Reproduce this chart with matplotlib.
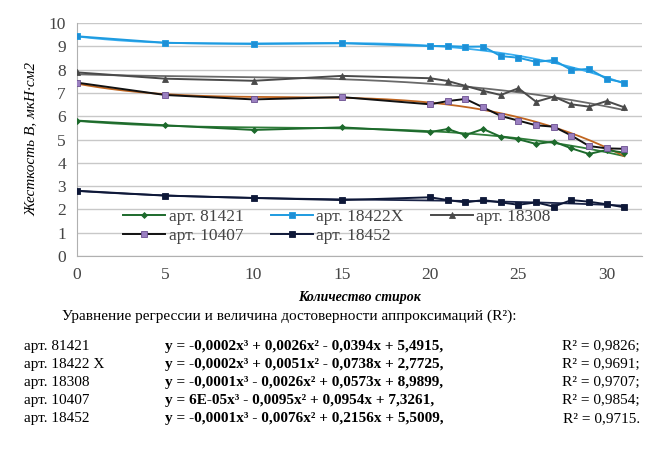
import numpy as np
import matplotlib
matplotlib.use("Agg")
import matplotlib.pyplot as plt

x = [0, 5, 10, 15, 20, 21, 22, 23, 24, 25, 26, 27, 28, 29, 30, 31]
s81421 = [5.81, 5.61, 5.41, 5.52, 5.32, 5.45, 5.19, 5.45, 5.12, 5.01, 4.81, 4.91, 4.62, 4.38, 4.55, 4.43]
s18422x = [9.43, 9.15, 9.10, 9.13, 9.01, 9.01, 8.98, 8.99, 8.58, 8.51, 8.33, 8.41, 7.98, 8.03, 7.60, 7.44]
s18308 = [7.88, 7.61, 7.52, 7.73, 7.63, 7.51, 7.30, 7.09, 6.91, 7.20, 6.62, 6.84, 6.51, 6.41, 6.65, 6.38]
s10407 = [7.44, 6.91, 6.72, 6.82, 6.51, 6.65, 6.74, 6.38, 6.01, 5.81, 5.61, 5.55, 5.17, 4.72, 4.62, 4.60]
s18452 = [2.80, 2.59, 2.49, 2.40, 2.52, 2.40, 2.30, 2.40, 2.30, 2.20, 2.30, 2.12, 2.40, 2.33, 2.22, 2.09]

labels = ["арт. 81421", "арт. 18422X", "арт. 18308", "арт. 10407", "арт. 18452"]
y_ticks = list(range(0, 11))
x_ticks = [0, 5, 10, 15, 20, 25, 30]

eq_names = ["арт. 81421", "арт. 18422 X", "арт. 18308", "арт. 10407", "арт. 18452"]
eq_texts = [
    "y = -0,0002x³ + 0,0026x² - 0,0394x + 5,4915,",
    "y = -0,0002x³ + 0,0051x² - 0,0738x + 2,7725,",
    "y = -0,0001x³ - 0,0026x² + 0,0573x + 8,9899,",
    "y = 6E-05x³ - 0,0095x² + 0,0954x + 7,3261,",
    "y = -0,0001x³ - 0,0076x² + 0,2156x + 5,5009,",
]
r2_texts = ["R² = 0,9826;", "R² = 0,9691;", "R² = 0,9707;", "R² = 0,9854;", "R² = 0,9715."]

plt.rcParams['font.family'] = ['Liberation Serif', 'DejaVu Serif']

fig = plt.figure(figsize=(6.45, 4.5), dpi=100)
ax = fig.add_axes([77/645, 1-256/450, 565/645, 233/450])

series = [s81421, s18422x, s18308, s10407, s18452]
colors = ["#1d6a2c", "#1e9be0", "#4a4a4a", "#111111", "#0e1838"]
trend_colors = ["#2f7d3a", "#3aaef0", "#6a6a6a", "#c0651f", "#1a2448"]
markers = ["D", "s", "^", "s", "s"]
msizes = [3, 4.5, 4.5, 4, 4]
mfcs = ["#1d6a2c", "#1e8fd6", "#4a4a4a", "#9a7fc0", "#0e1838"]

xs = np.array(x, dtype=float)
xf = np.linspace(0, 31, 200)
handles = {}
for s, c, tc, m, ms, mfc, lab in zip(series, colors, trend_colors, markers, msizes, mfcs, labels):
    coef = np.polyfit(xs, np.array(s), 3)
    ax.plot(xf, np.polyval(coef, xf), color=tc, lw=1.3, zorder=3)
    h, = ax.plot(x, s, color=c, lw=1.4, marker=m, ms=ms, mfc=mfc,
                 mec=c if lab != "арт. 10407" else "#6a4f90", mew=0.6, label=lab, zorder=4)
    handles[lab] = h

ax.set_xlim(0, 32)
ax.set_ylim(0, 10)
ax.set_xticks(x_ticks)
ax.set_yticks(y_ticks)
ax.grid(axis='y', color='#c8c8c8', lw=1.0)
ax.set_axisbelow(True)
for sp in ['top', 'right']:
    ax.spines[sp].set_visible(False)
ax.spines['left'].set_color('#b0b0b0')
ax.spines['bottom'].set_color('#b0b0b0')
ax.tick_params(axis='both', length=0, labelsize=12.5, colors='#444444', pad=8)

ax.set_ylabel("Жесткость В, мкН·см2", fontsize=11, style='italic', labelpad=8)
ax.set_xlabel("Количество стирок", fontsize=10, style='italic', fontweight='bold', labelpad=6)

order = ["арт. 81421", "арт. 10407", "арт. 18422X", "арт. 18452", "арт. 18308"]
leg = ax.legend([handles[k] for k in order], order, ncol=3, loc='lower left',
                bbox_to_anchor=(0.07, 0.02), frameon=False,
                fontsize=12.5, handlelength=2.4, handletextpad=0.2, columnspacing=1.6,
                labelspacing=0.2, borderaxespad=0.0)
for t in leg.get_texts():
    t.set_color('#444444')

fig.text(62/645, 1-320/450, "Уравнение регрессии и величина достоверности аппроксимаций (R²):",
         fontsize=11, va='baseline', ha='left')
row_y = [350, 368, 386, 404, 422]
for ry, nm, eq, r2 in zip(row_y, eq_names, eq_texts, r2_texts):
    yy = 1 - ry/450
    fig.text(24/645, yy, nm, fontsize=11, va='baseline', ha='left')
    fig.text(165/645, yy, eq, fontsize=11, va='baseline', ha='left', fontweight='bold')
    fig.text(640/645, yy, r2, fontsize=11, va='baseline', ha='right')

fig.savefig("out.png", dpi=100)
